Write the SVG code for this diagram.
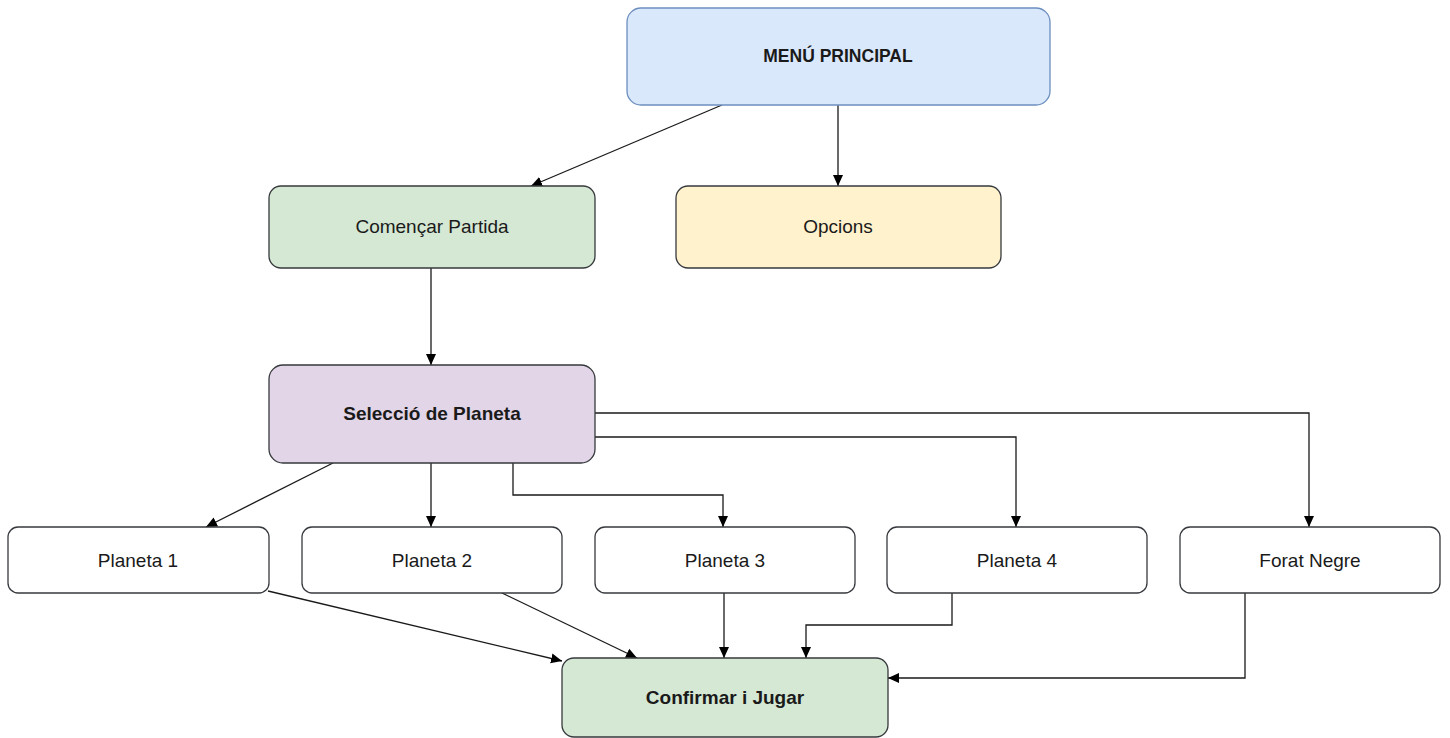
<svg xmlns="http://www.w3.org/2000/svg" width="1450" height="738" viewBox="0 0 1450 738">
<defs>
<style>
.n rect{stroke:#36393d;stroke-width:1.3}
.t{font-family:"Liberation Sans",Arial,sans-serif;font-size:19px;fill:#1a1a1a;text-anchor:middle;dominant-baseline:central}
.b{font-weight:bold}
.c path{fill:none;stroke:#1a1a1a;stroke-width:1.3}
</style>
<marker id="a" markerUnits="userSpaceOnUse" markerWidth="12" markerHeight="12" viewBox="0 0 12 12" refX="11" refY="6" orient="auto">
<path d="M0,1 L11,6 L0,11 Z" fill="#000"/>
</marker>
</defs>
<rect width="1450" height="738" fill="#fff"/>
<g class="c">
<path d="M722,105 L531,186" marker-end="url(#a)"/>
<path d="M838,105 L838,186" marker-end="url(#a)"/>
<path d="M431,268 L431,365" marker-end="url(#a)"/>
<path d="M333,463 L206,527" marker-end="url(#a)"/>
<path d="M431,463 L431,527" marker-end="url(#a)"/>
<path d="M513,463 L513,495 L723,495 L723,527" marker-end="url(#a)"/>
<path d="M595,437 L1016,437 L1016,527" marker-end="url(#a)"/>
<path d="M595,413 L1309,413 L1309,527" marker-end="url(#a)"/>
<path d="M268,591 L562,661" marker-end="url(#a)"/>
<path d="M502,593 L637,658" marker-end="url(#a)"/>
<path d="M724,593 L724,658" marker-end="url(#a)"/>
<path d="M952,593 L952,625 L806,625 L806,658" marker-end="url(#a)"/>
<path d="M1245,593 L1245,678 L888,678" marker-end="url(#a)"/>
</g>
<g id="menu" class="n"><rect x="627" y="8" width="423" height="97" rx="14" fill="#dae8fc" style="stroke:#6c8ebf"/><text class="t b" x="838" y="56" style="font-size:17.5px">MENÚ PRINCIPAL</text></g>
<g id="comencar" class="n"><rect x="269" y="186" width="326" height="82" rx="12" fill="#d5e8d4"/><text class="t" x="432" y="226">Començar Partida</text></g>
<g id="opcions" class="n"><rect x="676" y="186" width="325" height="82" rx="12" fill="#fff2cc"/><text class="t" x="838" y="226">Opcions</text></g>
<g id="seleccio" class="n"><rect x="269" y="365" width="326" height="98" rx="14" fill="#e1d5e7"/><text class="t b" x="432" y="413">Selecció de Planeta</text></g>
<g id="planeta1" class="n"><rect x="8" y="527" width="261" height="66" rx="10" fill="#fff"/><text class="t" x="138" y="560">Planeta 1</text></g>
<g id="planeta2" class="n"><rect x="302" y="527" width="260" height="66" rx="10" fill="#fff"/><text class="t" x="432" y="560">Planeta 2</text></g>
<g id="planeta3" class="n"><rect x="595" y="527" width="260" height="66" rx="10" fill="#fff"/><text class="t" x="725" y="560">Planeta 3</text></g>
<g id="planeta4" class="n"><rect x="887" y="527" width="260" height="66" rx="10" fill="#fff"/><text class="t" x="1017" y="560">Planeta 4</text></g>
<g id="forat" class="n"><rect x="1180" y="527" width="260" height="66" rx="10" fill="#fff"/><text class="t" x="1310" y="560">Forat Negre</text></g>
<g id="confirmar" class="n"><rect x="562" y="658" width="326" height="79" rx="12" fill="#d5e8d4"/><text class="t b" x="725" y="697">Confirmar i Jugar</text></g>
</svg>
